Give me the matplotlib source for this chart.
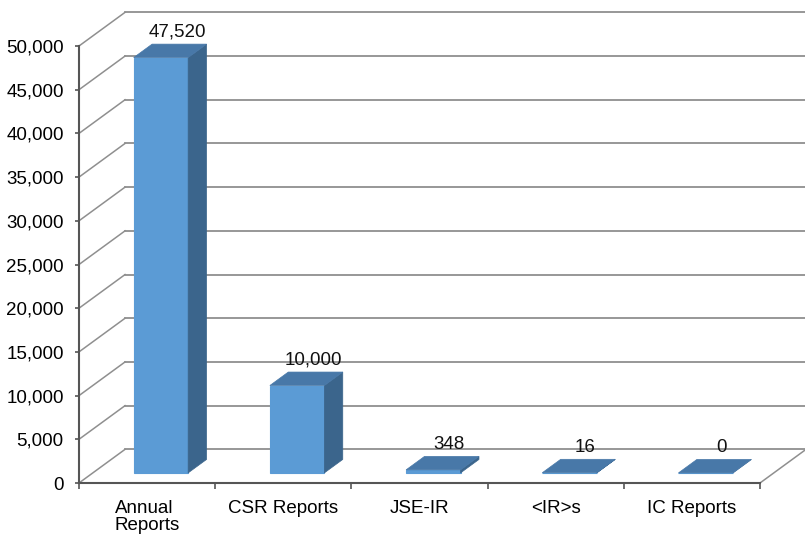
import matplotlib.pyplot as plt
from matplotlib.patches import Polygon

plt.rcParams['font.family'] = ['Liberation Sans', 'DejaVu Sans']

# data
categories = ['Annual\nReports', 'CSR Reports', 'JSE-IR', '<IR>s', 'IC Reports']
values = [47520, 10000, 348, 16, 0]
yticks = [0, 5000, 10000, 15000, 20000, 25000, 30000, 35000, 40000, 45000, 50000]

# depth of the fake 3d box, in data units
DX = 0.338
DY = 3850
f0, f1 = 0.3, 0.7
half_w = 0.2

c_front = '#5b9bd5'
c_side = '#3b658c'
c_top = '#4878a8'
c_grid = '#8f8f8f'
c_axis = '#555555'
fs = 13.5

fig = plt.figure(figsize=(8.05, 5.37), dpi=100)
ax = fig.add_axes([79 / 805, 54 / 537, 681 / 805, 437 / 537])
ax.set_xlim(0, 5)
ax.set_ylim(0, 50000)

# back wall gridlines, side wall diagonals
for v in yticks:
    ax.plot([DX, 5 + DX + 0.1], [v + DY, v + DY], color=c_grid, lw=1.3, clip_on=False, zorder=1)
    ax.plot([0, DX], [v, v + DY], color=c_grid, lw=1.1, clip_on=False, zorder=1)
# floor right edge
ax.plot([5, 5 + DX], [0, DY], color=c_grid, lw=1.1, clip_on=False, zorder=1)

# bars
for i, v in enumerate(values):
    c = i + 0.5
    x0 = c - half_w
    x1 = c + half_w
    ox0, oy0 = f0 * DX, f0 * DY
    ox1, oy1 = f1 * DX, f1 * DY
    front = [(x0 + ox0, oy0), (x1 + ox0, oy0), (x1 + ox0, v + oy0), (x0 + ox0, v + oy0)]
    side = [(x1 + ox0, oy0), (x1 + ox1, oy1), (x1 + ox1, v + oy1), (x1 + ox0, v + oy0)]
    top = [(x0 + ox0, v + oy0), (x1 + ox0, v + oy0), (x1 + ox1, v + oy1), (x0 + ox1, v + oy1)]
    ax.add_patch(Polygon(front, closed=True, facecolor=c_front, edgecolor=c_front, lw=0.8, zorder=3, clip_on=False))
    ax.add_patch(Polygon(side, closed=True, facecolor=c_side, edgecolor=c_side, lw=0.5, zorder=3, clip_on=False))
    ax.add_patch(Polygon(top, closed=True, facecolor=c_top, edgecolor=c_top, lw=0.5, zorder=4, clip_on=False))
    ax.text(c + (f0 + f1) / 2 * DX + 0.05, v + oy1 + 1350, f'{v:,}', ha='center', va='center',
            fontsize=fs, color='#111111', zorder=5)

# axes styling
for s in ['top', 'right']:
    ax.spines[s].set_visible(False)
for s in ['left', 'bottom']:
    ax.spines[s].set_color(c_axis)
    ax.spines[s].set_linewidth(1.5)
    ax.spines[s].set_zorder(6)

ax.set_yticks(yticks)
ax.set_yticklabels([f'{v:,}' for v in yticks])
ax.tick_params(axis='y', length=3, width=1.2, color=c_axis, pad=8, labelsize=fs)

ax.set_xticks([i + 0.5 for i in range(len(categories))])
ax.set_xticklabels(categories, va='top', linespacing=1.0, multialignment='left')
ax.set_xticks(range(len(categories) + 1), minor=True)
ax.tick_params(axis='x', which='major', length=0, pad=12, labelsize=fs)
ax.tick_params(axis='x', which='minor', length=4, width=1.2, color=c_axis)

fig.savefig('out.png', dpi=100)
